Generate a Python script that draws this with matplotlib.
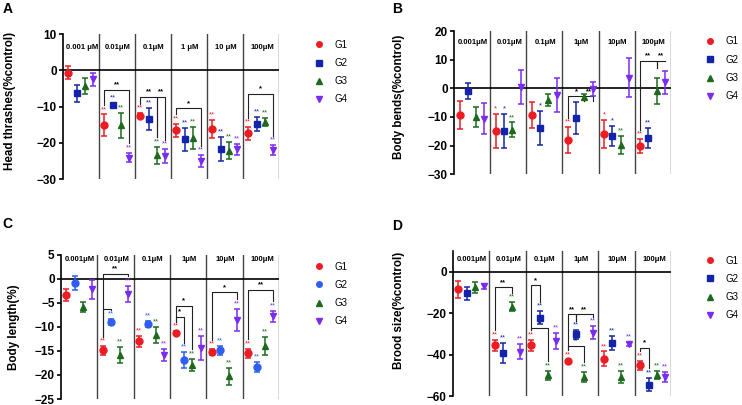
import matplotlib
matplotlib.use("Agg")
import matplotlib.pyplot as plt
from matplotlib.lines import Line2D

plt.rcParams["font.family"] = ["Liberation Sans", "DejaVu Sans"]

groups = ["G1", "G2", "G3", "G4"]
offsets = [0.15, 0.38, 0.61, 0.84]

# panel A - head thrashes
a_conc = ["0.001 μM", "0.01μM", "0.1μM", "1 μM", "10 μM", "100μM"]
a_mean = [[-0.7, -6.4, -4.3, -2.5],
          [-15.2, -9.6, -15.2, -24.1],
          [-12.5, -13.4, -23.5, -23.7],
          [-16.6, -19.0, -18.7, -25.1],
          [-16.2, -21.6, -22.2, -21.8],
          [-17.4, -14.8, -14.3, -22.0]]
a_err = [[1.8, 2.4, 2.3, 1.8],
         [3.0, 0.5, 3.5, 1.3],
         [0.6, 3.0, 2.4, 2.0],
         [1.8, 3.2, 3.0, 1.6],
         [2.4, 3.3, 2.3, 1.5],
         [1.7, 1.9, 1.2, 1.3]]
a_sig = [["", "", "", ""]] + [["**", "**", "**", "**"]] * 5
a_brackets = [(1, 0, 3, -5.4, "**"), (2, 0, 2, -7.4, "**"), (2, 2, 3, -7.4, "**"),
              (3, 0, 3, -10.5, "*"), (5, 0, 3, -6.5, "*")]

# panel B - body bends
b_conc = ["0.001μM", "0.01μM", "0.1μM", "1μM", "10μM", "100μM"]
b_mean = [[-9.4, -0.8, -9.9, -10.6],
          [-15.0, -15.0, -14.4, 0.5],
          [-9.4, -13.8, -3.9, -2.2],
          [-18.1, -10.3, -3.0, -0.3],
          [-15.9, -16.7, -19.7, 3.7],
          [-20.2, -17.3, -0.9, 2.2]]
b_err = [[4.9, 2.8, 3.5, 5.5],
         [6.0, 5.9, 2.5, 6.0],
         [4.5, 6.0, 2.1, 6.0],
         [4.6, 5.5, 1.0, 2.5],
         [4.8, 3.6, 3.1, 6.8],
         [2.4, 3.6, 4.6, 4.0]]
b_sig = [["", "", "", ""],
         ["*", "*", "**", ""],
         ["", "*", "", ""],
         ["**", "", "", ""],
         ["*", "*", "**", ""],
         ["**", "**", "", ""]]
b_brackets = [(3, 0, 2, -2.8, "*"), (3, 2, 3, -2.8, "**"),
              (5, 0, 2, 9.7, "**"), (5, 2, 3, 9.7, "**")]

# panel C - body length
c_conc = ["0.001μM", "0.01μM", "0.1μM", "1μM", "10μM", "100μM"]
c_mean = [[-3.4, -0.9, -5.9, -2.2],
          [-14.9, -9.0, -15.8, -3.1],
          [-13.0, -9.4, -11.7, -15.8],
          [-11.3, -16.9, -17.9, -14.4],
          [-15.2, -14.9, -20.3, -8.5],
          [-15.5, -18.3, -13.9, -7.8]]
c_err = [[1.2, 1.5, 1.0, 2.0],
         [0.9, 0.6, 1.7, 1.7],
         [1.2, 0.6, 1.6, 1.2],
         [0.4, 1.6, 1.3, 2.5],
         [0.6, 1.0, 1.8, 2.3],
         [1.0, 1.1, 1.9, 1.2]]
c_sig = [["", "", "", ""]] + [["**", "**", "**", "**"]] * 5
c_brackets = [(1, 0, 3, 1.0, "**"), (1, 0, 1, -6.2, ""), (3, 0, 2, -5.6, "*"),
              (3, 0, 1, -7.9, "*"), (4, 0, 3, -2.8, "*"), (5, 0, 3, -2.3, "**")]

# panel D - brood size
d_conc = ["0.001μM", "0.01μM", "0.1μM", "1μM", "10μM", "100μM"]
d_mean = [[-8.5, -10.5, -7.6, -6.9],
          [-35.5, -39.2, -16.9, -38.7],
          [-35.5, -22.1, -50.0, -33.4],
          [-43.2, -30.3, -50.8, -29.5],
          [-41.9, -34.4, -50.8, -34.7],
          [-45.2, -54.5, -50.0, -50.8]]
d_err = [[4.0, 3.0, 2.6, 1.2],
         [2.7, 5.0, 2.2, 3.6],
         [2.7, 3.0, 2.2, 4.0],
         [0.8, 2.2, 2.6, 3.2],
         [3.4, 3.6, 3.0, 1.0],
         [2.2, 3.3, 2.0, 2.2]]
d_sig = [["", "", "", ""]] + [["**", "**", "**", "**"]] * 5
d_brackets = [(1, 0, 2, -7.6, "**"), (2, 0, 1, -6.5, "*"), (2, 0, 2, -27.4, "*"),
              (3, 0, 1, -20.6, "**"), (3, 1, 3, -20.6, "**"), (3, 0, 2, -35.8, "*"),
              (5, 0, 1, -36.8, "*")]

red = "#ec1c24"
navy = "#1424a8"
green = "#1d6a1d"
purple = "#7a2cf0"
light_blue = "#2e5ef2"


def panel(ax, conc, mean, err, sig, brackets, ylim, yticks, ylabel,
          colors, markers, label_y, ylabel_pos):
    rng = ylim[1] - ylim[0]
    for b in range(6):
        for g in range(4):
            x = b + offsets[g]
            m = mean[b][g]
            e = err[b][g]
            ax.errorbar(x, m, yerr=e, fmt=markers[g], color=colors[g], ms=5,
                        capsize=2, elinewidth=1.1, capthick=1.1, zorder=4)
            if sig[b][g]:
                ax.text(x, m + e + 0.035 * rng, sig[b][g], color=colors[g],
                        fontsize=5.5, ha="center", va="center")
        ax.text(b + 0.53, ylim[0] + label_y * rng, conc[b], fontsize=5.5,
                fontweight="bold", ha="center", va="center")
        ax.axvline(b + 1, color="#444444", lw=1, zorder=1)

    for b, i, j, level, lab in brackets:
        xs = []
        ys = []
        for g in (i, j):
            top = mean[b][g] + err[b][g] + 0.065 * rng
            if top > level:
                top = level - 0.03 * rng
            xs.append(b + offsets[g])
            ys.append(top)
        ax.plot([xs[0], xs[0], xs[1], xs[1]], [ys[0], level, level, ys[1]],
                color="#222222", lw=0.8, zorder=3)
        if lab:
            ax.text((xs[0] + xs[1]) / 2, level + 0.01 * rng, lab, fontsize=5.5,
                    ha="center", va="bottom", fontweight="bold")

    ax.axhline(0, color="black", lw=1.2, zorder=2)
    ax.set_xlim(0, 6)
    ax.set_ylim(*ylim)
    ax.set_yticks(yticks)
    ax.set_xticks([])
    for s in ("top", "right", "bottom"):
        ax.spines[s].set_visible(False)
    ax.spines["left"].set_linewidth(1.2)
    ax.tick_params(axis="y", length=3, width=1.2, labelsize=8.5, pad=1.5)
    for t in ax.get_yticklabels():
        t.set_fontweight("bold")
    ax.set_ylabel(ylabel, fontsize=8.4, fontweight="bold")
    ax.yaxis.set_label_coords(*ylabel_pos)

    handles = [Line2D([], [], ls="none", marker=markers[g], color=colors[g], ms=4)
               for g in range(4)]
    return handles


fig = plt.figure(figsize=(7.42, 4.05), dpi=100)

ax_a = fig.add_axes([0.0849, 0.558, 0.291, 0.358])
ax_b = fig.add_axes([0.612, 0.570, 0.292, 0.353])
ax_c = fig.add_axes([0.0822, 0.0148, 0.294, 0.356])
ax_d = fig.add_axes([0.6105, 0.0222, 0.294, 0.358])

m4 = ["o", "s", "^", "v"]
h_a = panel(ax_a, a_conc, a_mean, a_err, a_sig, a_brackets, (-30, 10),
            [10, 0, -10, -20, -30], "Head thrashes(%control)",
            [red, navy, green, purple], m4, 0.91, (-0.218, 0.54))
h_b = panel(ax_b, b_conc, b_mean, b_err, b_sig, b_brackets, (-30, 20),
            [20, 10, 0, -10, -20, -30], "Body bends(%control)",
            [red, navy, green, purple], m4, 0.92, (-0.226, 0.54))
h_c = panel(ax_c, c_conc, c_mean, c_err, c_sig, c_brackets, (-25, 5),
            [5, 0, -5, -10, -15, -20, -25], "Body length(%)",
            [red, light_blue, green, purple], ["o", "o", "^", "v"], 0.97, (-0.188, 0.5))
h_d = panel(ax_d, d_conc, d_mean, d_err, d_sig, d_brackets, (-60, 10),
            [0, -20, -40, -60], "Brood size(%control)",
            [red, navy, green, purple], m4, 0.943, (-0.22, 0.59))

for ax, h, pos in [(ax_a, h_a, (0.423, 0.902)), (ax_b, h_b, (0.950, 0.91)),
                   (ax_c, h_c, (0.423, 0.354)), (ax_d, h_d, (0.950, 0.369))]:
    ax.legend(h, groups, loc="upper left", bbox_to_anchor=pos,
              bbox_transform=fig.transFigure, frameon=False, fontsize=7,
              handlelength=1, handletextpad=1.15, labelspacing=0.85,
              borderaxespad=0, borderpad=0)

for lab, x, y in [("A", 0.003, 0.995), ("B", 0.528, 0.995),
                  ("C", 0.003, 0.465), ("D", 0.528, 0.46)]:
    fig.text(x, y, lab, fontsize=10, fontweight="bold", va="top", ha="left")

fig.savefig("out.png", dpi=100)
